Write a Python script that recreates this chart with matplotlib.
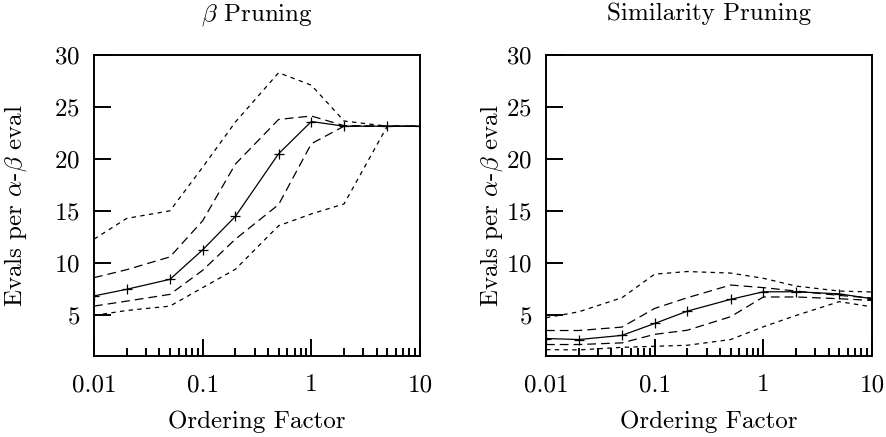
import matplotlib
matplotlib.use("Agg")
import matplotlib.pyplot as plt
from matplotlib.ticker import FixedLocator, FuncFormatter, LogLocator, NullFormatter

plt.rcParams['font.family'] = ['cmr10', 'DejaVu Serif']
plt.rcParams['mathtext.fontset'] = 'cm'
plt.rcParams['axes.unicode_minus'] = False
plt.rcParams['axes.formatter.use_mathtext'] = True

# ordering factor samples
factor = [0.01, 0.02, 0.05, 0.1, 0.2, 0.5, 1, 2, 5, 10]

# beta pruning: median and percentile bands
beta_med = [6.8, 7.44, 8.4, 11.24, 14.46, 20.5, 23.6, 23.15, 23.15, 23.15]
beta_hi = [8.56, 9.33, 10.56, 14.04, 19.5, 23.8, 24.13, 23.2, 23.15, 23.15]
beta_lo = [5.82, 6.3, 6.95, 9.27, 12.27, 15.6, 21.46, 23.15, 23.15, 23.15]
beta_max = [12.27, 14.27, 15.0, 19.2, 23.55, 28.3, 27.1, 23.65, 23.15, 23.15]
beta_min = [4.92, 5.4, 5.82, 7.6, 9.37, 13.56, 14.7, 15.66, 23.15, 23.15]

# similarity pruning
sim_med = [2.7, 2.6, 3.0, 4.15, 5.34, 6.47, 7.2, 7.2, 7.0, 6.53]
sim_hi = [3.47, 3.47, 3.8, 5.6, 6.63, 7.85, 7.6, 7.27, 6.85, 6.6]
sim_lo = [2.12, 2.12, 2.28, 3.1, 3.5, 4.8, 6.7, 6.7, 6.53, 6.37]
sim_max = [4.7, 5.27, 6.63, 8.9, 9.15, 9.0, 8.5, 7.75, 7.27, 7.18]
sim_min = [1.63, 1.6, 1.85, 1.95, 2.05, 2.6, 3.83, 4.92, 6.25, 5.75]

panels = [
    (r'$\beta$ Pruning', beta_med, beta_hi, beta_lo, beta_max, beta_min),
    ('Similarity Pruning', sim_med, sim_hi, sim_lo, sim_max, sim_min),
]

fig = plt.figure(figsize=(8.87, 4.37), dpi=100)
positions = [[0.106, 0.185, 0.3675, 0.689], [0.6156, 0.185, 0.3675, 0.689]]
ylabel_x = [-0.242, -0.166]

long_dash = (0, (7, 4))
short_dash = (0, (3.5, 3.5))
fs = 18

for pos, lx, (title, med, hi, lo, mx, mn) in zip(positions, ylabel_x, panels):
    ax = fig.add_axes(pos)
    ax.plot(factor, mx, color='black', lw=0.9, linestyle=short_dash)
    ax.plot(factor, mn, color='black', lw=0.9, linestyle=short_dash)
    ax.plot(factor, hi, color='black', lw=0.9, linestyle=long_dash)
    ax.plot(factor, lo, color='black', lw=0.9, linestyle=long_dash)
    ax.plot(factor, med, color='black', lw=0.9, marker='+', markersize=7,
            markeredgewidth=0.9)

    ax.set_xscale('log')
    ax.set_xlim(0.01, 10)
    ax.set_ylim(1, 30)
    ax.xaxis.set_major_locator(FixedLocator([0.01, 0.1, 1, 10]))
    ax.xaxis.set_major_formatter(FuncFormatter(lambda v, p: '%g' % v))
    ax.xaxis.set_minor_locator(LogLocator(base=10, subs=range(2, 10)))
    ax.xaxis.set_minor_formatter(NullFormatter())
    ax.set_yticks([5, 10, 15, 20, 25, 30])

    ax.tick_params(which='major', direction='in', length=12, width=1.4,
                   labelsize=fs, top=False, right=False)
    ax.tick_params(axis='x', which='major', pad=13)
    ax.tick_params(axis='y', which='major', pad=10)
    ax.tick_params(which='minor', direction='in', length=6, width=1.4,
                   top=False, right=False)
    for s in ax.spines.values():
        s.set_linewidth(1.4)

    ax.set_title(title, fontsize=fs, pad=25)
    ax.set_xlabel('Ordering Factor', fontsize=fs, labelpad=10)
    ax.set_ylabel(r'Evals per $\alpha$-$\beta$ eval', fontsize=fs, va='center')
    ax.yaxis.set_label_coords(lx, 0.5)

fig.savefig('out.png', dpi=100)
